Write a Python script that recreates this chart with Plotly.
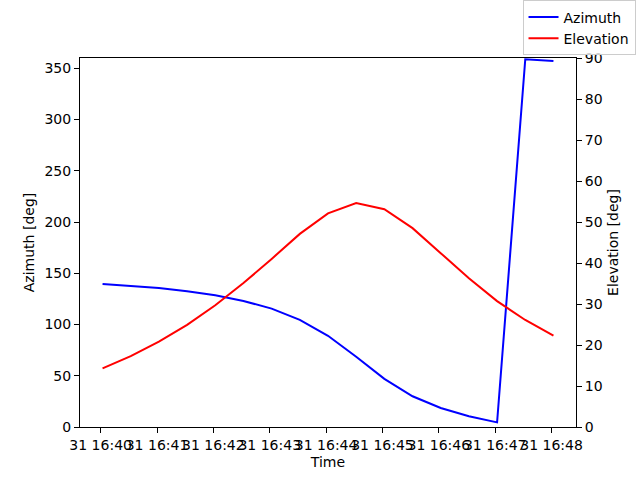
import pandas as pd
import plotly.graph_objects as go

# pass times, every 30 s
times = pd.date_range("2021-12-31 16:40:02", periods=17, freq="30s")

# azimuth and elevation in degrees
azimuth = [139.5, 137.5, 135.5, 132.5, 128.5, 123.0, 115.5, 104.5, 89.0,
           68.5, 47.0, 30.0, 18.5, 10.5, 4.5, 358.8, 357.0]
elevation = [14.3, 17.3, 20.8, 24.9, 29.7, 35.1, 41.0, 47.1, 52.1,
             54.6, 53.1, 48.5, 42.4, 36.3, 30.7, 26.1, 22.3]

tickTimes = pd.date_range("2021-12-31 16:40:00", periods=9, freq="1min")

font = dict(family="DejaVu Sans", size=14, color="black")
axisStyle = dict(showline=True, linecolor="black", linewidth=1, ticks="outside",
                 ticklen=5, tickcolor="black", showgrid=False, zeroline=False,
                 tickfont=font, automargin=False)

fig = go.Figure()
fig.add_trace(go.Scatter(x=times, y=azimuth, mode="lines", name="Azimuth",
                         line=dict(color="blue", width=2)))
fig.add_trace(go.Scatter(x=times, y=elevation, mode="lines", name="Elevation",
                         line=dict(color="red", width=2), yaxis="y2"))

# 5% margins either side like matplotlib's autoscale
span = times[-1] - times[0]
xRange = [times[0] - span * 0.05, times[-1] + span * 0.05]

fig.update_layout(
    width=640, height=480,
    paper_bgcolor="white", plot_bgcolor="white",
    margin=dict(l=80, r=64, t=58, b=53, autoexpand=False),
    font=font,
    xaxis=dict(axisStyle, type="date", range=xRange, tickvals=tickTimes,
               tickformat="%d %H:%M", tickangle=0, mirror=True,
               title=dict(text="Time", font=font, standoff=5)),
    yaxis=dict(axisStyle, range=[0, 360], tickvals=list(range(0, 351, 50)),
               title=dict(text="Azimuth [deg]", font=font, standoff=6)),
    yaxis2=dict(axisStyle, range=[0, 90], tickvals=list(range(0, 91, 10)),
                overlaying="y", side="right",
                title=dict(text="Elevation [deg]", font=font, standoff=6)),
    legend=dict(x=1.12, y=1.156, xanchor="right", yanchor="top",
                bgcolor="rgba(255,255,255,0.8)", bordercolor="#cccccc",
                borderwidth=1, font=font, tracegroupgap=0),
    showlegend=True,
)

# drop the default page margin so the figure sits at the window corner
fig.write_html("out.html", config={"displayModeBar": False},
               post_script="document.body.style.margin = '0';")
